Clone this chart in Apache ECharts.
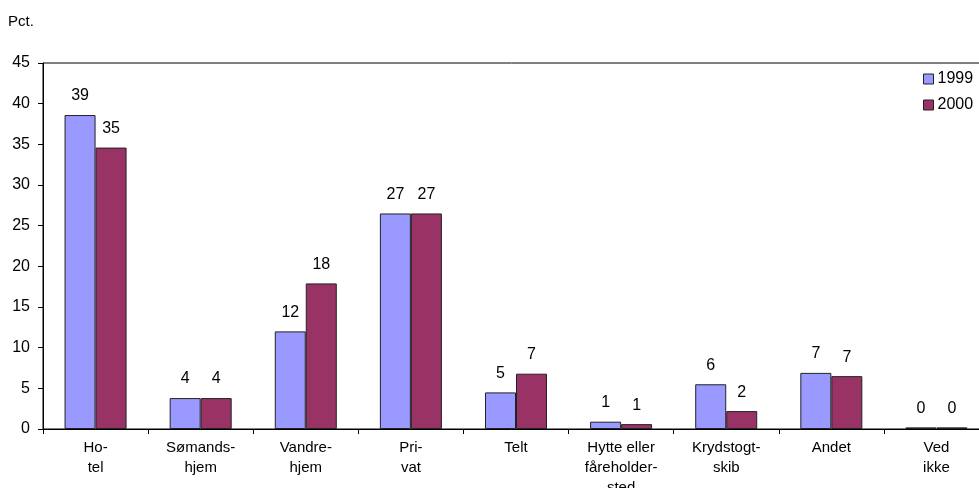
<!DOCTYPE html>
<html lang="da">
<head>
    <meta charset="UTF-8">
    <title>Overnatning</title>
    <script src="https://cdn.jsdelivr.net/npm/echarts@6/dist/echarts.min.js"></script>
    <style>
        html, body { margin: 0; padding: 0; background: #fff; }
        #container { width: 979px; height: 488px; }
    </style>
</head>
<body>
<div id="container"></div>
<script>
    var categories = ['Ho-\ntel', 'Sømands-\nhjem', 'Vandre-\nhjem', 'Pri-\nvat', 'Telt',
        'Hytte eller\nfåreholder-\nsted', 'Krydstogt-\nskib', 'Andet', 'Ved\nikke'];
    var values1999 = [38.6, 3.8, 12.0, 26.5, 4.5, 0.9, 5.5, 6.9, 0.2];
    var values2000 = [34.6, 3.8, 17.9, 26.5, 6.8, 0.6, 2.2, 6.5, 0.2];
    var yTicks = [0, 5, 10, 15, 20, 25, 30, 35, 40, 45];

    var font = 'Liberation Sans, Arial, sans-serif';

    function barSeries(name, data, color) {
        return {
            name: name,
            type: 'bar',
            data: data,
            barGap: '0%',
            barCategoryGap: '41%',
            itemStyle: { color: color, borderColor: '#222', borderWidth: 1 },
            label: {
                show: true,
                position: 'top',
                distance: 11,
                color: '#000',
                fontFamily: font,
                fontSize: 16,
                formatter: function (p) { return Math.round(p.value); }
            }
        };
    }

    var myChart = echarts.init(document.getElementById('container'));
    var option = {
        animation: false,
        graphic: [{
            type: 'text', left: 8, top: 14,
            style: { text: 'Pct.', fontFamily: font, fontSize: 15, fill: '#000' }
        }],
        legend: {
            orient: 'vertical',
            left: 918,
            top: 66,
            itemWidth: 10,
            itemHeight: 10,
            itemGap: 10,
            icon: 'rect',
            textStyle: { fontFamily: font, fontSize: 16, color: '#000', padding: [0, 0, 0, -1] },
            itemStyle: { borderColor: '#222', borderWidth: 1 }
        },
        grid: {
            left: 43, top: 63, width: 946, height: 366,
            outerBoundsMode: 'none',
            containLabel: false,
            show: true, borderColor: '#000', borderWidth: 1
        },
        xAxis: {
            type: 'category',
            data: categories,
            axisLine: { lineStyle: { color: '#000' } },
            axisTick: { show: true, length: 5, lineStyle: { color: '#000' } },
            axisLabel: {
                color: '#000', fontFamily: font, fontSize: 15,
                lineHeight: 20, margin: 9, interval: 0
            }
        },
        yAxis: {
            type: 'value',
            min: yTicks[0],
            max: yTicks[yTicks.length - 1],
            interval: 5,
            splitLine: { show: false },
            axisLine: { show: true, lineStyle: { color: '#000' } },
            axisTick: { show: true, length: 5, lineStyle: { color: '#000' } },
            axisLabel: { color: '#000', fontFamily: font, fontSize: 16, margin: 13 }
        },
        series: [
            barSeries('1999', values1999, '#9999ff'),
            barSeries('2000', values2000, '#993366')
        ]
    };
    myChart.setOption(option);
</script>
</body>
</html>
